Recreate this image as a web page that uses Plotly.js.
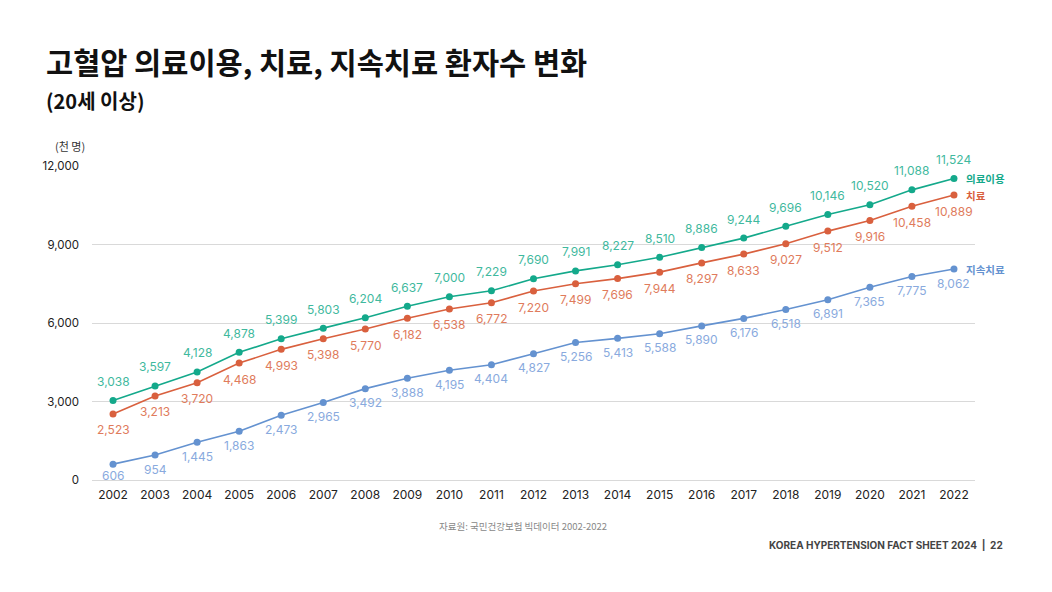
<!DOCTYPE html>
<html><head><meta charset="utf-8">
<script src="https://cdn.plot.ly/plotly-3.0.1.min.js"></script>
<style>html,body{margin:0;padding:0;background:#fff}#c{width:1052px;height:592px}</style>
</head><body><div id="c"></div>
<script>
const years = ["2002","2003","2004","2005","2006","2007","2008","2009","2010","2011","2012","2013","2014","2015","2016","2017","2018","2019","2020","2021","2022"];
const medicalUse = [3038,3597,4128,4878,5399,5803,6204,6637,7000,7229,7690,7991,8227,8510,8886,9244,9696,10146,10520,11088,11524];
const treatment = [2523,3213,3720,4468,4993,5398,5770,6182,6538,6772,7220,7499,7696,7944,8297,8633,9027,9512,9916,10458,10889];
const continuous = [606,954,1445,1863,2473,2965,3492,3888,4195,4404,4827,5256,5413,5588,5890,6176,6518,6891,7365,7775,8062];
const seriesNames = ["의료이용","치료","지속치료"];
const yTicks = [0,3000,6000,9000,12000];

const FONT = "Inter, 'Noto Sans CJK KR', 'Noto Sans', sans-serif";
const KFONT = "'Noto Sans CJK KR', Inter, sans-serif";
const cols = ["#14a98b","#d9603e","#6492d0"];
const lblCols = ["#3fb99e","#e07b5c","#89aade"];
const fmt = v => v.toLocaleString('en-US');

const datasets = [medicalUse, treatment, continuous];
const yshifts = [19, -16, -14];
const traces = datasets.map((d,i)=>({
  x: years, y: d, type:'scatter', mode:'lines+markers',
  name: seriesNames[i],
  line:{color:cols[i], width:1.6},
  marker:{color:cols[i], size:7},
  cliponaxis:false, hoverinfo:'skip'
}));

const annotations = [
  {text:"<b>고혈압 의료이용, 치료, 지속치료 환자수 변화</b>", xref:'paper', yref:'paper', x:-0.054, y:1.335, xanchor:'left', yanchor:'middle', showarrow:false, font:{family:KFONT, size:29.5, color:'#111'}},
  {text:"<b>(20세 이상)</b>", xref:'paper', yref:'paper', x:-0.054, y:1.21, xanchor:'left', yanchor:'middle', showarrow:false, font:{family:KFONT, size:20, color:'#111'}},
  {text:"(천 명)", xref:'paper', yref:'paper', x:-0.044, y:1.064, xanchor:'left', yanchor:'middle', showarrow:false, font:{family:KFONT, size:11, color:'#333'}},
  {text:"자료원: 국민건강보험 빅데이터 2002-2022", xref:'paper', yref:'paper', x:0.488, y:-0.146, xanchor:'center', yanchor:'middle', showarrow:false, font:{family:KFONT, size:9.5, color:'#888'}},
  {text:"<b>KOREA HYPERTENSION FACT SHEET 2024  |  22</b>", xref:'paper', yref:'paper', x:1.034, y:-0.207, xanchor:'right', yanchor:'middle', showarrow:false, font:{family:FONT, size:10, color:'#444'}}
];
datasets.forEach((d,i)=>{
  d.forEach((v,j)=>{
    annotations.push({text:fmt(v), x:j, y:v, xref:'x', yref:'y', xanchor:'center', yanchor:'middle', yshift:(i===2 && j===0) ? -11 : yshifts[i], showarrow:false, font:{family:FONT, size:12, color:lblCols[i]}});
  });
  annotations.push({text:"<b>"+seriesNames[i]+"</b>", x:d.length-1, y:d[d.length-1], xref:'x', yref:'y', xanchor:'left', yanchor:'middle', xshift:10, showarrow:false, font:{family:KFONT, size:10.5, color:cols[i]}});
});

const layout = {
  width:1052, height:592,
  margin:{l:92, r:77, t:166, b:112},
  paper_bgcolor:'#fff', plot_bgcolor:'#fff',
  showlegend:false,
  font:{family:FONT, color:'#222'},
  xaxis:{type:'category', range:[-0.5,20.5], showgrid:false, zeroline:false, showline:false, ticks:'', ticklabelstandoff:6, tickfont:{family:FONT, size:12, color:'#222'}, fixedrange:true},
  yaxis:{range:[0,12000], tickvals:yTicks, ticktext:yTicks.map(fmt), showgrid:true, gridcolor:'#d9d9d9', gridwidth:1, zeroline:true, zerolinecolor:'#d9d9d9', showline:false, ticks:'', ticklabelstandoff:12, tickfont:{family:FONT, size:11.5, color:'#222'}, fixedrange:true},
  annotations
};
Plotly.newPlot('c', traces, layout, {displayModeBar:false, staticPlot:true});
</script></body></html>
